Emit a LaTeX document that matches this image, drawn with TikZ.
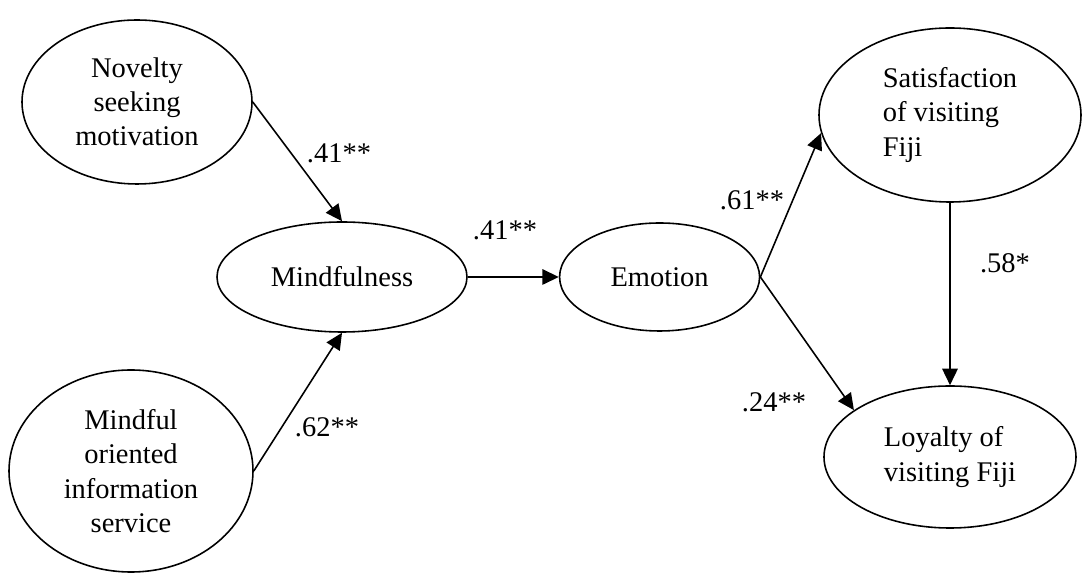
\documentclass[tikz,border=0pt]{standalone}
\usepackage{fontspec}
\setmainfont{Liberation Serif}
\usetikzlibrary{shapes.geometric, arrows.meta, positioning}

\begin{document}
\begin{tikzpicture}[
    x=0.2mm, y=0.2mm,
    font=\fontsize{16.2}{19.5}\selectfont,
    latent/.style={draw, ellipse, line width=0.9pt, inner sep=0pt, align=center},
    coef/.style={inner sep=0pt},
    arrow/.style={-{Triangle[length=3.3mm, width=3.1mm]}, line width=0.9pt}
]
    \useasboundingbox (0,0) rectangle (1082,574);
    \node[latent, minimum width=46mm, minimum height=32.8mm] (nov) at (137,472) {Novelty\\seeking\\motivation};
    \node[latent, minimum width=50mm, minimum height=22mm] (mind) at (342,297) {Mindfulness};
    \node[latent, minimum width=48.8mm, minimum height=40.4mm] (info) at (131,103) {Mindful\\oriented\\information\\service};
    \node[latent, minimum width=40mm, minimum height=21.6mm, right=18.2mm of mind] (emo) {Emotion};
    \node[latent, align=left, minimum width=52.4mm, minimum height=34.8mm] (sat) at (950,459) {Satisfaction\\of visiting\\Fiji};
    \node[latent, align=left, minimum width=50.4mm, minimum height=28.4mm] (loy) at (950,117) {Loyalty of\\visiting Fiji};
    \draw[arrow] (nov.east) -- (mind.north);
    \draw[arrow] (info.east) -- (mind.south);
    \draw[arrow] (mind.east) -- (emo.west);
    \draw[arrow] (emo.east) -- (sat.188);
    \draw[arrow] (emo.east) -- (loy.154);
    \draw[arrow] (sat.south) -- (loy.north);
    \node[coef] (c1) at (339,421) {.41**};
    \node[coef] (c2) at (505,344) {.41**};
    \node[coef] (c3) at (327,147) {.62**};
    \node[coef] (c4) at (752,374) {.61**};
    \node[coef] (c5) at (1005,311) {.58*};
    \node[coef] (c6) at (774,172) {.24**};
\end{tikzpicture}
\end{document}
